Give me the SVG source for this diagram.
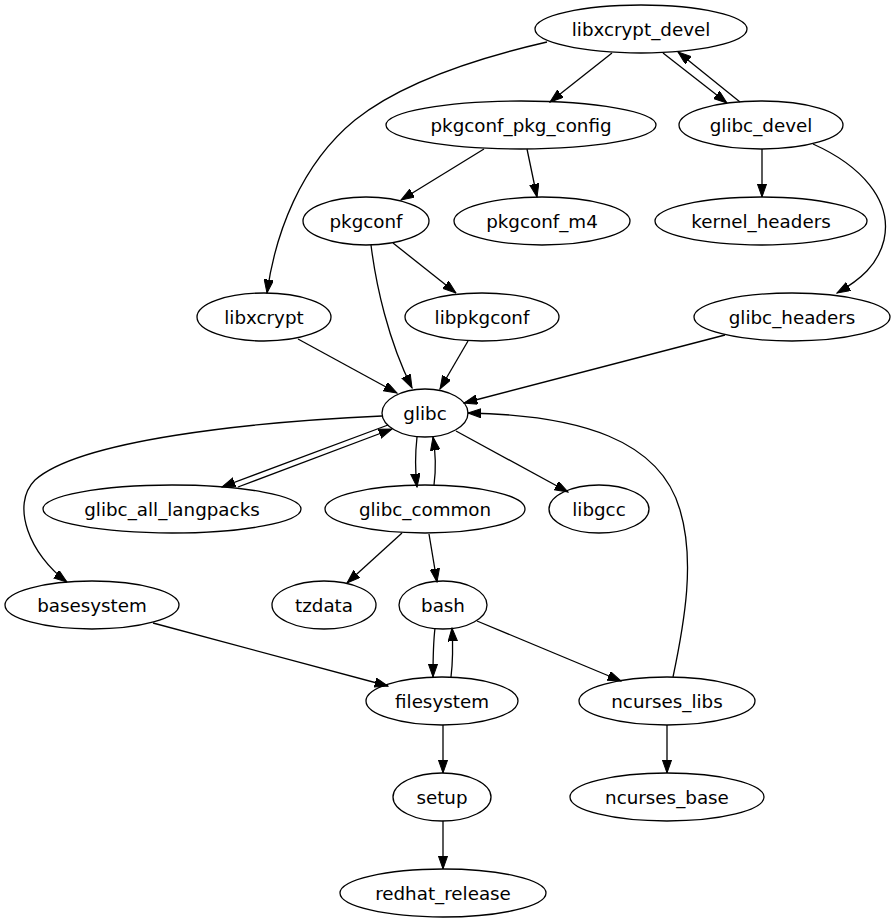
<svg xmlns="http://www.w3.org/2000/svg" width="895" height="923" viewBox="0 0 895 923">
<defs>
<marker id="ah" markerUnits="userSpaceOnUse" markerWidth="14" markerHeight="10" refX="13.3" refY="4.7" orient="auto">
<path d="M0,0 L13.3,4.7 L0,9.4 z" fill="#000" stroke="#000" stroke-width="1"/>
</marker>
<style>
.n ellipse{fill:none;stroke:#000;stroke-width:1.3}
.n text{font-family:"DejaVu Sans","Liberation Sans",sans-serif;font-size:18.3px;text-anchor:middle;fill:#000}
.e path{fill:none;stroke:#000;stroke-width:1.3;marker-end:url(#ah)}
</style>
</defs>
<rect width="895" height="923" fill="#fff"/>
<g id="edges" class="e">
<path d="M547,42 C460,62 395,88 355,120 C300,165 275,235 267,293"/>
<path d="M612,53 L550,102"/>
<path d="M663,53 L727,103"/>
<path d="M740,102 L678,52"/>
<path d="M484,149 L401,200"/>
<path d="M527,149 L537,197"/>
<path d="M762,149 L762,197"/>
<path d="M813,144 C860,165 893,200 884,240 C878,265 860,280 837,293"/>
<path d="M393,243 L456,293"/>
<path d="M371,245 C376,285 388,340 412,388"/>
<path d="M298,339 L397,393"/>
<path d="M468,341 L440,389"/>
<path d="M725,335 L464,403"/>
<path d="M382,416 C250,422 80,440 35,480 C10,505 30,555 67,582"/>
<path d="M388,425 L222,487"/>
<path d="M238,487 L392,429"/>
<path d="M417,437 C415,455 415,470 417,487"/>
<path d="M434,485 C436,470 436,455 433,437"/>
<path d="M456,431 L568,492"/>
<path d="M402,533 L347,583"/>
<path d="M429,534 L437,582"/>
<path d="M153,623 L388,686"/>
<path d="M435,628 C433,645 433,660 433,677"/>
<path d="M451,677 C453,660 453,645 452,628"/>
<path d="M477,621 L621,681"/>
<path d="M673,677 C685,620 695,560 680,510 C660,440 580,415 468,413"/>
<path d="M443,725 L443,773"/>
<path d="M667,725 L667,773"/>
<path d="M443,821 L443,869"/>
</g>
<g id="libxcrypt_devel" class="n"><ellipse cx="641" cy="29" rx="106" ry="24"/><text x="641" y="35.5">libxcrypt_devel</text></g>
<g id="pkgconf_pkg_config" class="n"><ellipse cx="521" cy="125" rx="135" ry="24"/><text x="521" y="131.5">pkgconf_pkg_config</text></g>
<g id="glibc_devel" class="n"><ellipse cx="761" cy="125" rx="82" ry="24"/><text x="761" y="131.5">glibc_devel</text></g>
<g id="pkgconf" class="n"><ellipse cx="366" cy="221" rx="63" ry="24"/><text x="366" y="227.5">pkgconf</text></g>
<g id="pkgconf_m4" class="n"><ellipse cx="542" cy="221" rx="88" ry="24"/><text x="542" y="227.5">pkgconf_m4</text></g>
<g id="kernel_headers" class="n"><ellipse cx="761" cy="221" rx="106" ry="24"/><text x="761" y="227.5">kernel_headers</text></g>
<g id="libxcrypt" class="n"><ellipse cx="264" cy="317" rx="67" ry="24"/><text x="264" y="323.5">libxcrypt</text></g>
<g id="libpkgconf" class="n"><ellipse cx="482" cy="317" rx="77" ry="24"/><text x="482" y="323.5">libpkgconf</text></g>
<g id="glibc_headers" class="n"><ellipse cx="792" cy="317" rx="98" ry="24"/><text x="792" y="323.5">glibc_headers</text></g>
<g id="glibc" class="n"><ellipse cx="425" cy="413" rx="43" ry="24"/><text x="425" y="419.5">glibc</text></g>
<g id="glibc_all_langpacks" class="n"><ellipse cx="172" cy="509" rx="129" ry="24"/><text x="172" y="515.5">glibc_all_langpacks</text></g>
<g id="glibc_common" class="n"><ellipse cx="425" cy="509" rx="100" ry="24"/><text x="425" y="515.5">glibc_common</text></g>
<g id="libgcc" class="n"><ellipse cx="599" cy="509" rx="50" ry="24"/><text x="599" y="515.5">libgcc</text></g>
<g id="basesystem" class="n"><ellipse cx="92" cy="605" rx="87" ry="24"/><text x="92" y="611.5">basesystem</text></g>
<g id="tzdata" class="n"><ellipse cx="324" cy="605" rx="52" ry="24"/><text x="324" y="611.5">tzdata</text></g>
<g id="bash" class="n"><ellipse cx="443" cy="605" rx="44" ry="24"/><text x="443" y="611.5">bash</text></g>
<g id="filesystem" class="n"><ellipse cx="442" cy="701" rx="76" ry="24"/><text x="442" y="707.5">filesystem</text></g>
<g id="ncurses_libs" class="n"><ellipse cx="667" cy="701" rx="88" ry="24"/><text x="667" y="707.5">ncurses_libs</text></g>
<g id="setup" class="n"><ellipse cx="442" cy="797" rx="49" ry="24"/><text x="442" y="803.5">setup</text></g>
<g id="ncurses_base" class="n"><ellipse cx="667" cy="797" rx="97" ry="24"/><text x="667" y="803.5">ncurses_base</text></g>
<g id="redhat_release" class="n"><ellipse cx="443" cy="893" rx="103" ry="24"/><text x="443" y="899.5">redhat_release</text></g>
</svg>
